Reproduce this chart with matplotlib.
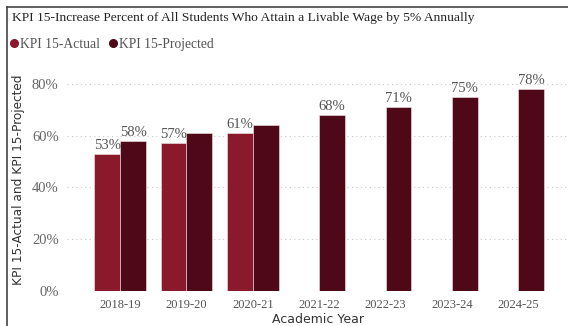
import numpy as np
import matplotlib
matplotlib.use("Agg")
import matplotlib.pyplot as plt
from matplotlib.lines import Line2D
from matplotlib.ticker import PercentFormatter

years = ["2018-19", "2019-20", "2020-21", "2021-22", "2022-23", "2023-24", "2024-25"]
actual = [0.53, 0.57, 0.61, None, None, None, None]
projected = [0.58, 0.61, 0.64, 0.68, 0.71, 0.75, 0.78]
# labels Power BI actually shows (some projected ones were hidden)
actual_lbl = ["53%", "57%", "61%", "", "", "", ""]
projected_lbl = ["58%", "", "", "68%", "71%", "75%", "78%"]

c_actual = "#8A1A2B"
c_proj = "#4E0818"
serif = "Liberation Serif"

fig = plt.figure(figsize=(5.68, 3.26), dpi=100)
ax = fig.add_axes([0.118, 0.107, 0.882, 0.684])

x = np.arange(len(years))
w = 0.39
act_vals = [v if v is not None else 0 for v in actual]
b1 = ax.bar(x - w / 2, act_vals, w, color=c_actual, edgecolor="#f2e6e8", linewidth=0.4)
b2 = ax.bar(x + w / 2, projected, w, color=c_proj, edgecolor="#f2e6e8", linewidth=0.4)
for i, v in enumerate(actual):
    if v is None:
        b1[i].set_visible(False)

for bars, lbls in ((b1, actual_lbl), (b2, projected_lbl)):
    for b, t in zip(bars, lbls):
        if t:
            ax.text(b.get_x() + b.get_width() / 2, b.get_height() + 0.008, t,
                    ha="center", va="bottom", fontsize=10.5, family=serif, color="#555555")

ax.set_xlim(-0.8, 6.75)
ax.set_ylim(0, 0.86)
ax.set_yticks([0, 0.2, 0.4, 0.6, 0.8])
ax.yaxis.set_major_formatter(PercentFormatter(1.0, decimals=0))
ax.set_xticks(x)
ax.set_xticklabels(years)
ax.tick_params(length=0, pad=6)
for lab in ax.get_xticklabels():
    lab.set_family(serif); lab.set_fontsize(9); lab.set_color("#555555")
for lab in ax.get_yticklabels():
    lab.set_family(serif); lab.set_fontsize(10.5); lab.set_color("#666666")
ax.grid(axis="y", linestyle=(0, (1, 3)), color="#c8c8c8", linewidth=0.8)
ax.set_axisbelow(True)
for s in ax.spines.values():
    s.set_visible(False)

ax.set_xlabel("Academic Year", fontsize=9, family="DejaVu Sans", color="#333333", labelpad=1)
ax.set_ylabel("KPI 15-Actual and KPI 15-Projected", fontsize=8.7, family="DejaVu Sans",
              color="#333333", labelpad=5)

fig.text(0.022, 0.945, "KPI 15-Increase Percent of All Students Who Attain a Livable Wage by 5% Annually",
         fontsize=9.7, family=serif, color="#222222", va="center")

handles = [Line2D([], [], marker="o", linestyle="", color=c_actual, markersize=5.5),
           Line2D([], [], marker="o", linestyle="", color=c_proj, markersize=5.5)]
fig.legend(handles, ["KPI 15-Actual", "KPI 15-Projected"], loc="center left",
           bbox_to_anchor=(-0.012, 0.865), ncol=2, frameon=False, handletextpad=-0.1,
           columnspacing=0.3, handlelength=1.2, prop={"family": serif, "size": 9.8},
           labelcolor="#555555")

# report frame (left and top edges visible)
fig.add_artist(Line2D([0.013, 0.013], [0, 0.979], transform=fig.transFigure, color="#444444", linewidth=1.2))
fig.add_artist(Line2D([0.013, 1.0], [0.979, 0.979], transform=fig.transFigure, color="#444444", linewidth=1.2))

fig.savefig("out.png", dpi=100)
